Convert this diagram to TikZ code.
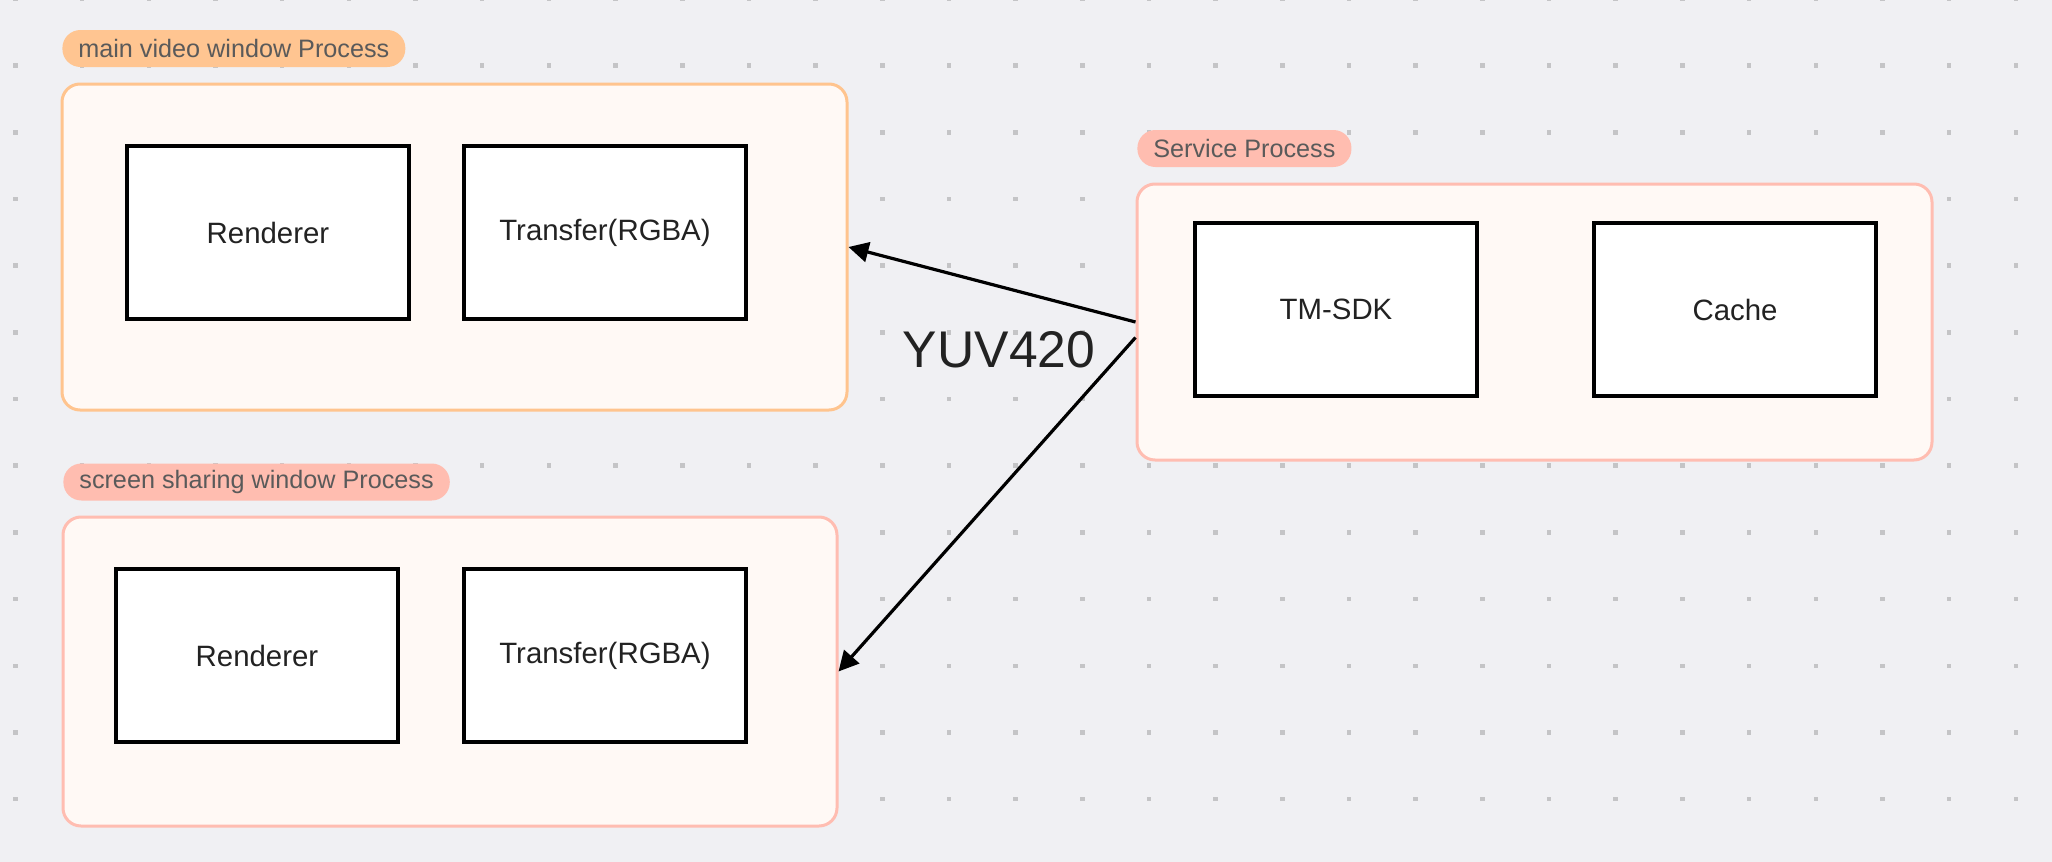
\documentclass[tikz,border=0pt]{standalone}
\usepackage{fontspec}
\setmainfont{Liberation Sans}
\usepackage{xcolor}
\usetikzlibrary{arrows.meta}

\definecolor{bgcol}{RGB}{240,240,243}
\definecolor{dotcol}{RGB}{196,196,198}
\definecolor{procfill}{RGB}{255,249,245}
\definecolor{orangeedge}{RGB}{255,196,142}
\definecolor{orangetag}{RGB}{255,197,145}
\definecolor{salmonedge}{RGB}{255,189,177}
\definecolor{salmontag}{RGB}{255,189,176}
\definecolor{tagtext}{RGB}{90,90,90}
\definecolor{boxtext}{RGB}{34,34,34}

\begin{document}
\begin{tikzpicture}[x=0.5pt, y=-0.5pt,
  process/.style={draw, line width=1.5pt, fill=procfill, rounded corners=9pt, inner sep=0pt},
  tag/.style={anchor=west, rounded corners=9pt, minimum height=18.5pt, inner xsep=8pt, inner ysep=0pt, text=tagtext, font=\fontsize{12.6}{14}\selectfont},
  module/.style={draw=black, line width=2pt, fill=white, minimum width=141pt, minimum height=86.5pt, text=boxtext, font=\fontsize{14.7}{17}\selectfont},
  flow/.style={-{Triangle[length=10pt,width=10pt]}, line width=1.6pt}]
\useasboundingbox (0,0) rectangle (2052,862);
\fill[bgcol] (0,0) rectangle (2052,862);
% dot grid
\foreach \i in {0,...,30}
  \foreach \j in {0,...,12}
    \fill[dotcol] ({15.6+66.67*\i},{-1+66.67*\j}) +(-2.2,-2.2) rectangle +(2.2,2.2);

% main video window
\node[process, draw=orangeedge, minimum width=392.5pt, minimum height=163pt] (mainwin) at (454.5,247) {};
\node[tag, fill=orangetag] (maintag) at (62,48.5) {main video window Process};
\node[module] (mainrend) at (268,232.5) {Renderer};
\node[module] (maintrans) at (605,232.5) {Transfer(RGBA)};

% service
\node[process, draw=salmonedge, minimum width=397.5pt, minimum height=138pt] (svc) at (1534.5,322) {};
\node[tag, fill=salmontag] (svctag) at (1137,148.5) {Service Process};
\node[module] (sdk) at (1336,309.5) {TM-SDK};
\node[module] (cache) at (1735,309.5) {Cache};

% screen sharing window
\node[process, draw=salmonedge, minimum width=387pt, minimum height=154.5pt] (share) at (450,671.5) {};
\node[tag, fill=salmontag] (sharetag) at (63,482) {screen sharing window Process};
\node[module] (sharerend) at (257,655.5) {Renderer};
\node[module] (sharetrans) at (605,655.5) {Transfer(RGBA)};

% frames
\draw[flow] (svc.west) -- (mainwin.east);
\draw[flow] ([yshift=-7.75pt]svc.west) -- (share.east);
\node[text=boxtext, font=\fontsize{25.8}{30}\selectfont] (fmt) at (999,350) {YUV420};
\end{tikzpicture}
\end{document}
